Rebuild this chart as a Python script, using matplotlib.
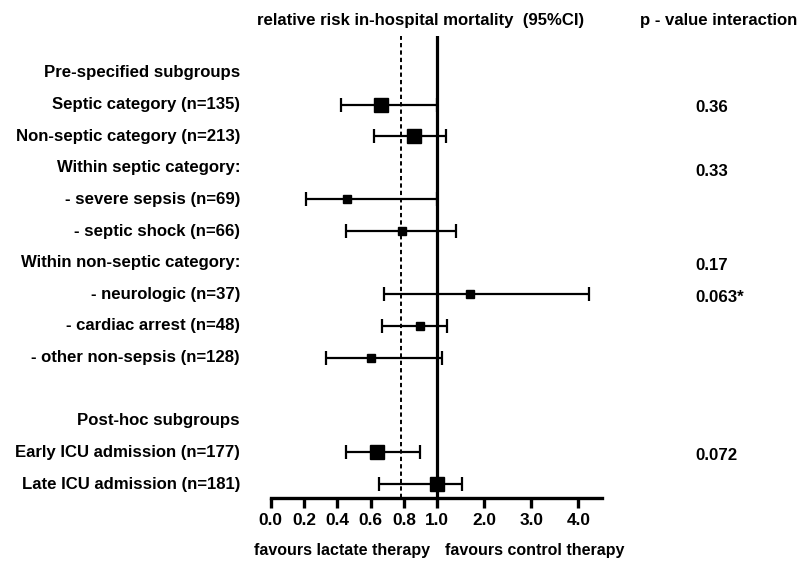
import numpy as np
import matplotlib
matplotlib.use('Agg')
import matplotlib.pyplot as plt
import matplotlib.transforms as mtransforms

# rows from top to bottom ('' = empty row)
labels = ['Pre-specified subgroups',
          'Septic category (n=135)',
          'Non-septic category (n=213)',
          'Within septic category:',
          '- severe sepsis (n=69)',
          '- septic shock (n=66)',
          'Within non-septic category:',
          '- neurologic (n=37)',
          '- cardiac arrest (n=48)',
          '- other non-sepsis (n=128)',
          '',
          'Post-hoc subgroups',
          'Early ICU admission (n=177)',
          'Late ICU admission (n=181)']

# estimates (row index, rr, lower, upper, big marker?)
est_rows = [1, 2, 4, 5, 7, 8, 9, 12, 13]
rr = [0.66, 0.86, 0.46, 0.79, 1.69, 0.90, 0.60, 0.64, 1.00]
lo = [0.42, 0.62, 0.21, 0.45, 0.68, 0.67, 0.33, 0.45, 0.65]
hi = [1.00, 1.19, 1.00, 1.40, 4.23, 1.20, 1.10, 0.90, 1.53]
big = [True, True, False, False, False, False, False, True, True]

p_rows = [1, 3, 6, 7, 12]
p_vals = ['0.36', '0.33', '0.17', '0.063*', '0.072']

overall = 0.78
xticks = [0.0, 0.2, 0.4, 0.6, 0.8, 1.0, 2.0, 3.0, 4.0]

plt.rcParams['font.family'] = ['Liberation Sans', 'DejaVu Sans']
plt.rcParams['font.weight'] = 'bold'
fs = 12.1

k = 0.283  # compression of the part above 1.0


def fwd(x):
    x = np.asarray(x, dtype=float)
    return np.where(x <= 1, x, 1 + (x - 1) * k)


def inv(x):
    x = np.asarray(x, dtype=float)
    return np.where(x <= 1, x, 1 + (x - 1) / k)


fig = plt.figure(figsize=(8.05, 5.64), dpi=100)
ax = fig.add_axes([270.7 / 805, 66 / 564, 331.3 / 805, 462 / 564])
ax.set_xscale('function', functions=(fwd, inv))
ax.set_xlim(0, 4.5)
ax.set_ylim(13.44, -1.17)

ax.axvline(1.0, color='black', lw=2.3, zorder=2)
ax.axvline(overall, color='black', lw=1.4, ls=(0, (2.2, 1.6)), zorder=2)

for i in range(len(rr)):
    y = est_rows[i]
    ms = 9.6 if big[i] else 6.4
    ax.errorbar(rr[i], y, xerr=[[rr[i] - lo[i]], [hi[i] - rr[i]]],
                fmt='s', color='black', ms=ms, elinewidth=1.6,
                capsize=5, capthick=1.6, zorder=3)

for s in ['top', 'right', 'left']:
    ax.spines[s].set_visible(False)
ax.spines['bottom'].set_linewidth(2.4)
ax.set_yticks([])
ax.set_xticks(xticks)
ax.set_xticklabels(['%.1f' % t for t in xticks], fontsize=12.4, fontweight='bold')
ax.tick_params(axis='x', length=7, width=2.4, pad=4)

tr = mtransforms.blended_transform_factory(fig.transFigure, ax.transData)
for i, lab in enumerate(labels):
    ax.text(240 / 805, i, lab, transform=tr, ha='right', va='center',
            fontsize=fs, fontweight='bold')
for r, p in zip(p_rows, p_vals):
    ax.text(695 / 805, r + 0.1, p, transform=tr, ha='left', va='center',
            fontsize=fs, fontweight='bold')

fig.text(421 / 805, 1 - 20 / 564, 'relative risk in-hospital mortality  (95%CI)',
         ha='center', va='center', fontsize=fs, fontweight='bold')
fig.text(719 / 805, 1 - 20 / 564, 'p - value interaction',
         ha='center', va='center', fontsize=fs, fontweight='bold')
fig.text(342 / 805, 1 - 551 / 564, 'favours lactate therapy',
         ha='center', va='center', fontsize=11.5, fontweight='bold')
fig.text(535 / 805, 1 - 551 / 564, 'favours control therapy',
         ha='center', va='center', fontsize=11.5, fontweight='bold')

fig.savefig('out.png', dpi=100)
